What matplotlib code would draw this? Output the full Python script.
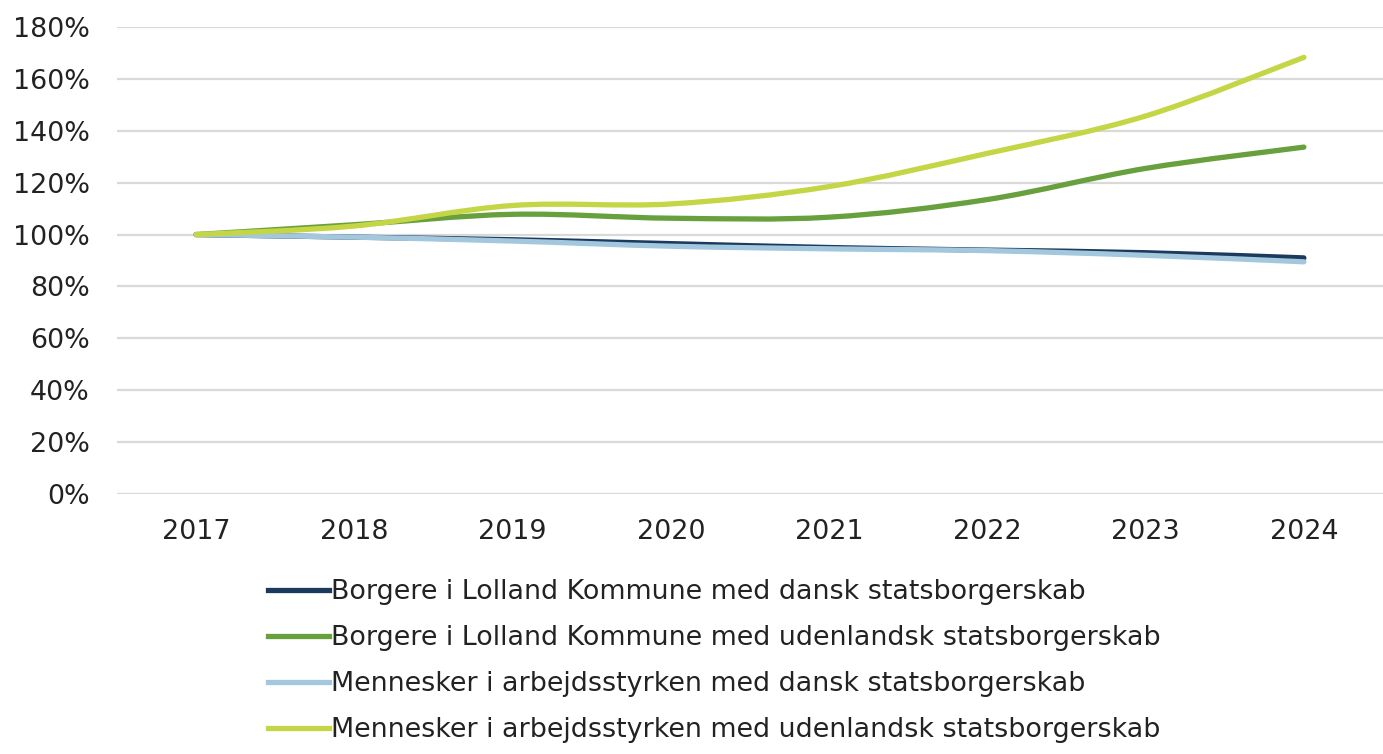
import matplotlib

matplotlib.use("Agg")
import matplotlib.pyplot as plt
import numpy as np
from matplotlib.lines import Line2D
from matplotlib.patches import PathPatch
from matplotlib.path import Path

years = ["2017", "2018", "2019", "2020", "2021", "2022", "2023", "2024"]
borgere_dansk = [100, 99, 98, 96.5, 95, 94, 93, 91]
borgere_udenl = [100, 103.8, 107.8, 106.3, 106.7, 113.5, 125.5, 133.7]
arb_dansk = [100, 99, 97.5, 95.5, 94.5, 93.8, 92, 89.5]
arb_udenl = [100, 103.3, 111.2, 111.8, 118.5, 131.3, 145.7, 168.3]

labels = [
    "Borgere i Lolland Kommune med dansk statsborgerskab",
    "Borgere i Lolland Kommune med udenlandsk statsborgerskab",
    "Mennesker i arbejdsstyrken med dansk statsborgerskab",
    "Mennesker i arbejdsstyrken med udenlandsk statsborgerskab",
]
colors = ["#1b3a5e", "#67a03c", "#a3c7dc", "#c4d645"]
series = [borgere_dansk, borgere_udenl, arb_dansk, arb_udenl]


def smooth_path(x, y):
    # Excel-style smoothed line: cubic Bezier through the points
    pts = np.column_stack([x, y]).astype(float)
    verts = [pts[0]]
    codes = [Path.MOVETO]
    n = len(pts)
    for i in range(n - 1):
        p0 = pts[max(i - 1, 0)]
        p1 = pts[i]
        p2 = pts[i + 1]
        p3 = pts[min(i + 2, n - 1)]
        c1 = p1 + (p2 - p0) / 6
        c2 = p2 - (p3 - p1) / 6
        verts += [c1, c2, p2]
        codes += [Path.CURVE4] * 3
    return Path(verts, codes)


plt.rcParams["font.family"] = ["DejaVu Sans"]
fig = plt.figure(figsize=(13.83, 7.54), dpi=100)
ax = fig.add_axes([0.0846, 0.3448, 0.9154, 0.6194])

x = np.arange(len(years))
for vals, c in zip(series, colors):
    patch = PathPatch(smooth_path(x, vals), facecolor="none", edgecolor=c,
                      lw=3.8, capstyle="round", joinstyle="round", zorder=3)
    ax.add_patch(patch)

ax.set_xlim(-0.5, len(years) - 0.5)
ax.set_ylim(0, 180)
ax.set_yticks(np.arange(0, 181, 20))
ax.set_yticklabels([f"{v}%" for v in range(0, 181, 20)])
ax.set_xticks(x)
ax.set_xticklabels(years)
ax.grid(axis="y", color="#d9d9d9", lw=1.6)
ax.set_axisbelow(True)
for s in ax.spines.values():
    s.set_visible(False)
ax.tick_params(length=0, labelsize=19.4, colors="#222222")
ax.tick_params(axis="y", pad=19.5)
ax.tick_params(axis="x", pad=18)

handles = [Line2D([0], [0], color=c, lw=3.8) for c in colors]
fig.legend(handles, labels, loc="upper left", bbox_to_anchor=(0.186, 0.246),
           frameon=False, fontsize=19.4, handlelength=2.25, handletextpad=0.1,
           labelspacing=0.74, borderaxespad=0, labelcolor="#222222")

fig.savefig("out.png", dpi=100, facecolor="white")
